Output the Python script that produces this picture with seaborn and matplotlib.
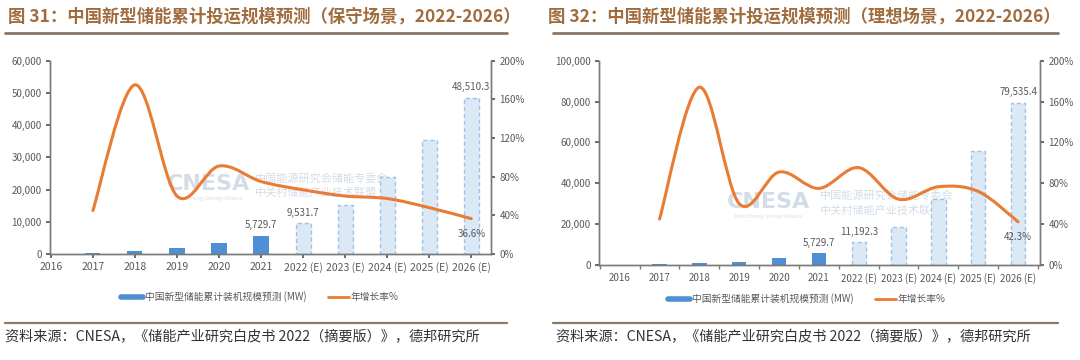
import numpy as np
import pandas as pd
import matplotlib
matplotlib.use('Agg')
import matplotlib.pyplot as plt
import seaborn as sns
from matplotlib.path import Path
from matplotlib.patches import PathPatch
from matplotlib.lines import Line2D

# ---- data ----
years = ['2016', '2017', '2018', '2019', '2020', '2021',
         '2022 (E)', '2023 (E)', '2024 (E)', '2025 (E)', '2026 (E)']
n_actual = 6  # 2016-2021 are actuals, the rest forecasts

base_mw = [0, 390, 1070, 1710, 3270, 5729.7, 9531.7, 15250, 24000, 35510, 48510.3]
base_growth = [np.nan, 45, 175, 60, 91, 75, 66.4, 60, 57.4, 48, 36.6]

ideal_mw = [0, 390, 1070, 1710, 3270, 5729.7, 11192.3, 18400, 32500, 55900, 79535.4]
ideal_growth = [np.nan, 45, 174, 60, 91, 75, 95.3, 64.4, 76.6, 72, 42.3]

base_labels = {5: '5,729.7', 6: '9,531.7', 10: '48,510.3'}
ideal_labels = {5: '5,729.7', 6: '11,192.3', 10: '79,535.4'}

title_left = '图 31：中国新型储能累计投运规模预测（保守场景，2022-2026）'
title_right = '图 32：中国新型储能累计投运规模预测（理想场景，2022-2026）'
source = '资料来源：CNESA，《储能产业研究白皮书 2022（摘要版）》，德邦研究所'
bar_name = '中国新型储能累计装机规模预测 (MW)'
line_name = '年增长率%'

BLUE = '#4f8fd3'
LIGHT = '#dbe8f6'
EDGE = '#9fc2e5'
ORANGE = '#e97b33'
BROWN = '#a06c3e'
RULE = '#8a7663'
GRAY = '#595959'
WM = '#d3dde8'

sns.set_theme(style='white')
plt.rcParams['font.family'] = ['Noto Sans CJK SC', 'DejaVu Sans']


def smooth_path(x, y):
    # excel-style smoothed line drawn as bezier segments through the points
    verts = [(x[0], y[0])]
    codes = [Path.MOVETO]
    n = len(x)
    for i in range(n - 1):
        xa, ya = (x[i - 1], y[i - 1]) if i > 0 else (x[i], y[i])
        xd, yd = (x[i + 2], y[i + 2]) if i + 2 < n else (x[i + 1], y[i + 1])
        c1 = (x[i] + (x[i + 1] - xa) / 6, y[i] + (y[i + 1] - ya) / 6)
        c2 = (x[i + 1] - (xd - x[i]) / 6, y[i + 1] - (yd - y[i]) / 6)
        verts += [c1, c2, (x[i + 1], y[i + 1])]
        codes += [Path.CURVE4] * 3
    return Path(verts, codes)


def draw_panel(fig, rect, mw, growth, ymax, ystep, labels, xlim, wm, xfont, ticks_between):
    ax = fig.add_axes(rect)
    df = pd.DataFrame({'year': years, 'mw': mw})
    colors = {y: (BLUE if i < n_actual else LIGHT) for i, y in enumerate(years)}
    sns.barplot(data=df, x='year', y='mw', hue='year', palette=colors,
                order=years, legend=False, width=0.36, ax=ax, saturation=1)
    for i, p in enumerate(ax.patches):
        if i >= n_actual:
            p.set_edgecolor(EDGE)
            p.set_linestyle((0, (3, 2)))
            p.set_linewidth(1.0)
        else:
            p.set_linewidth(0)

    for i, txt in labels.items():
        ax.annotate(txt, (i, mw[i]), xytext=(0, 4), textcoords='offset points',
                    ha='center', va='bottom', fontsize=7, color=GRAY)

    ax.set_xlim(*xlim)
    ax.set_ylim(0, ymax)
    ax.set_yticks(np.arange(0, ymax + 1, ystep))
    ax.set_yticklabels([f'{int(v):,}' for v in np.arange(0, ymax + 1, ystep)])
    ax.set_xlabel('')
    ax.set_ylabel('')
    ax.tick_params(axis='x', labelsize=xfont, colors=GRAY, length=3, direction='out', pad=3, bottom=True)
    ax.tick_params(axis='y', labelsize=7, colors=GRAY, length=3, direction='out', pad=3, left=True)
    if ticks_between:
        ax.tick_params(axis='x', length=0, pad=6)
        ax.set_xticks(np.arange(-0.5, len(years)), minor=True)
        ax.tick_params(axis='x', which='minor', bottom=True, length=3, color='#7a7a7a')

    ax2 = ax.twinx()
    ax2.set_ylim(0, 200)
    ax2.set_yticks(range(0, 201, 40))
    ax2.set_yticklabels([f'{v}%' for v in range(0, 201, 40)])
    ax2.tick_params(axis='y', labelsize=7, colors=GRAY, length=3, direction='out', pad=3, right=True)
    xs = [i for i, g in enumerate(growth) if not np.isnan(g)]
    ys = [g for g in growth if not np.isnan(g)]
    ax2.add_patch(PathPatch(smooth_path(xs, ys), facecolor='none', edgecolor=ORANGE,
                            lw=2.2, capstyle='round', zorder=5))
    ax2.annotate(f'{ys[-1]}%', (xs[-1], ys[-1]), xytext=(0, -11), textcoords='offset points',
                 ha='center', va='center', fontsize=7, color=GRAY)
    ax2.set_xlim(*xlim)

    for a in (ax, ax2):
        a.spines['top'].set_visible(False)
        for s in ('left', 'right', 'bottom'):
            a.spines[s].set_color('#7a7a7a')
            a.spines[s].set_linewidth(1)
        a.grid(False)

    # faint CNESA watermark
    wx, wy, dx = wm
    ax.text(wx, wy, 'CNESA', transform=ax.transAxes, fontsize=16, fontweight='bold',
            color=WM, ha='center', va='center', family='DejaVu Sans', zorder=0)
    ax.text(wx, wy - 0.075, 'China Energy Storage Alliance', transform=ax.transAxes,
            fontsize=3.5, color=WM, ha='center', va='center', zorder=0)
    ax.text(wx + dx, wy + 0.03, '中国能源研究会储能专委会', transform=ax.transAxes,
            fontsize=8, color=WM, ha='left', va='center', zorder=0)
    ax.text(wx + dx, wy - 0.045, '中关村储能产业技术联盟', transform=ax.transAxes,
            fontsize=8, color=WM, ha='left', va='center', zorder=0)
    return ax


W, H = 1080, 360
fig = plt.figure(figsize=(10.8, 3.6), dpi=100)


def fx(px):
    return px / W


def fy(py):
    return 1 - py / H


draw_panel(fig, [fx(50), fy(254), fx(441), fy(60.7) - fy(254)],
           base_mw, base_growth, 60000, 10000, base_labels, (-0.02, 10.47),
           (0.36, 0.36, 0.105), 7.5, False)
draw_panel(fig, [fx(599), fy(265), fx(441), fy(60.7) - fy(265)],
           ideal_mw, ideal_growth, 100000, 20000, ideal_labels, (-0.52, 10.55),
           (0.385, 0.31, 0.115), 7, True)

handles = [Line2D([], [], color=BLUE, lw=4), Line2D([], [], color=ORANGE, lw=2)]
for cx, cy in ((260, 297), (807, 299)):
    fig.legend(handles, [bar_name, line_name], loc='center', ncol=2,
               bbox_to_anchor=(fx(cx), fy(cy)), frameon=False, fontsize=7,
               handlelength=2.2, columnspacing=2.2, handletextpad=0.2,
               labelcolor=GRAY)

fig.text(fx(8), fy(17), title_left, fontsize=12.5, fontweight='bold', color=BROWN, va='center')
fig.text(fx(548), fy(17), title_right, fontsize=12.5, fontweight='bold', color=BROWN, va='center')
for x0, x1 in ((5, 507), (553, 1058)):
    fig.add_artist(Line2D([fx(x0), fx(x1)], [fy(33), fy(33)], color=RULE, lw=2))
    fig.add_artist(Line2D([fx(x0), fx(x1)], [fy(323), fy(323)], color=RULE, lw=1.6))
fig.text(fx(5), fy(337), source, fontsize=10.2, color='#333333', va='center')
fig.text(fx(556), fy(337), source, fontsize=10.2, color='#333333', va='center')

fig.savefig('out.png', dpi=100)
